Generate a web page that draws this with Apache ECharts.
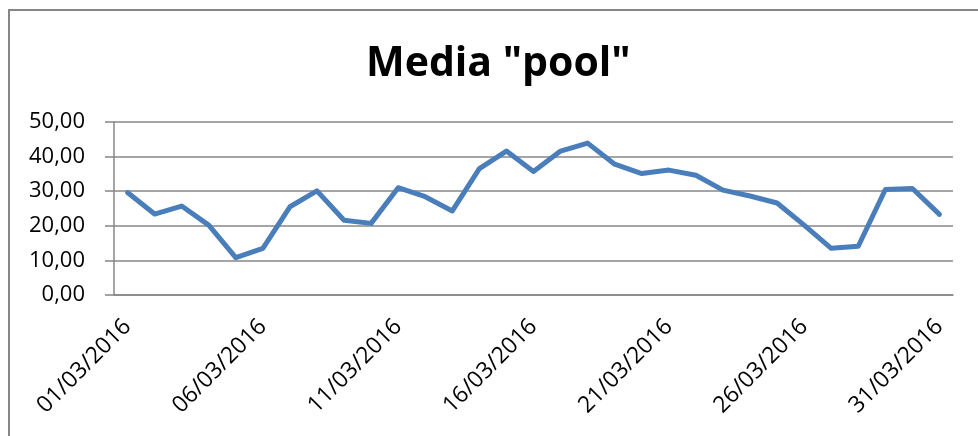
<!DOCTYPE html>
<html>
<head>
<meta charset="utf-8">
<script src="https://cdn.jsdelivr.net/npm/echarts@6/dist/echarts.min.js"></script>
<style>
  html, body { margin: 0; padding: 0; background: #fff; }
  #chart { width: 978px; height: 436px; }
</style>
</head>
<body>
<div id="chart"></div>
<script>
// Daily dates for March 2016
const dates = [
  '01/03/2016', '02/03/2016', '03/03/2016', '04/03/2016', '05/03/2016',
  '06/03/2016', '07/03/2016', '08/03/2016', '09/03/2016', '10/03/2016',
  '11/03/2016', '12/03/2016', '13/03/2016', '14/03/2016', '15/03/2016',
  '16/03/2016', '17/03/2016', '18/03/2016', '19/03/2016', '20/03/2016',
  '21/03/2016', '22/03/2016', '23/03/2016', '24/03/2016', '25/03/2016',
  '26/03/2016', '27/03/2016', '28/03/2016', '29/03/2016', '30/03/2016',
  '31/03/2016'
];

// Daily average of the pool
const mediaPool = [
  29.6, 23.4, 25.7, 20.2, 10.8, 13.5, 25.5, 30.1, 21.6, 20.7,
  31.0, 28.4, 24.3, 36.5, 41.6, 35.7, 41.6, 43.9, 37.8, 35.1,
  36.1, 34.6, 30.3, 28.6, 26.6, 20.2, 13.5, 14.1, 30.5, 30.8,
  23.3
];

// Value axis range
const yMin = 0;
const yMax = 50;
const yStep = 10;

const gray = '#878787';
const labelFont = { fontFamily: 'Open Sans', fontSize: 22, color: '#000' };

const chart = echarts.init(document.getElementById('chart'), null, { renderer: 'canvas' });

chart.setOption({
  animation: false,
  backgroundColor: '#fff',
  title: {
    text: 'Media "pool"',
    left: 361,
    top: 39,
    padding: 5,
    textStyle: {
      fontFamily: 'Open Sans',
      fontWeight: 'bold',
      fontSize: 41,
      color: '#000'
    }
  },
  graphic: [{
    type: 'rect',
    shape: { x: 9, y: 10, width: 1000, height: 460 },
    style: { fill: 'none', stroke: '#868686', lineWidth: 2 },
    silent: true,
    z: -1
  }],
  grid: { left: 114, right: 25, top: 122, bottom: 141 },
  xAxis: {
    type: 'category',
    data: dates,
    boundaryGap: true,
    axisLine: { lineStyle: { color: gray, width: 1.5 } },
    axisTick: { interval: 4, length: 8, lineStyle: { color: gray, width: 1.5 } },
    axisLabel: Object.assign({ interval: 4, rotate: 45, margin: 28 }, labelFont, { fontSize: 23 }),
    splitLine: { show: false }
  },
  yAxis: {
    type: 'value',
    min: yMin,
    max: yMax,
    interval: yStep,
    axisLine: { show: true, lineStyle: { color: gray, width: 1.5 } },
    axisTick: { show: true, inside: false, length: 9, lineStyle: { color: gray, width: 1.5 } },
    axisLabel: Object.assign({
      margin: 29,
      formatter: v => v.toFixed(2).replace('.', ',')
    }, labelFont),
    splitLine: { show: true, lineStyle: { color: gray, width: 1.5 } }
  },
  series: [{
    type: 'line',
    data: mediaPool,
    showSymbol: false,
    symbol: 'none',
    lineStyle: { color: '#4a7ebb', width: 5, cap: 'round', join: 'round' },
    itemStyle: { color: '#4a7ebb' }
  }]
});
</script>
</body>
</html>
